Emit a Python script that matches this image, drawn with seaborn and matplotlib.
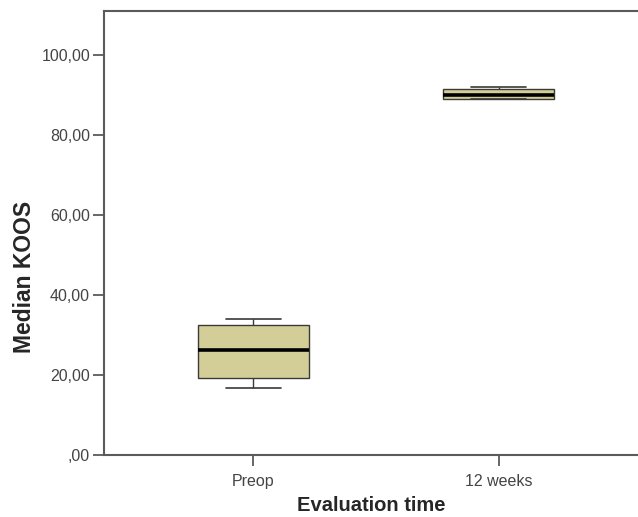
import matplotlib
matplotlib.use("Agg")
import matplotlib.pyplot as plt
import seaborn as sns
import pandas as pd
from matplotlib.ticker import FixedLocator, FixedFormatter

# ---- data ----
timepoints = ["Preop", "12 weeks"]
preop_koos = [16.8, 19.2, 26.25, 32.5, 33.9]
week12_koos = [88.9, 88.9, 90.0, 91.4, 92.1]
y_ticks = [0, 20, 40, 60, 80, 100]
y_tick_labels = [",00", "20,00", "40,00", "60,00", "80,00", "100,00"]

df = pd.DataFrame({
    "time": [timepoints[0]] * len(preop_koos) + [timepoints[1]] * len(week12_koos),
    "koos": preop_koos + week12_koos,
})

sns.set_style("ticks")
plt.rcParams["font.family"] = ["Liberation Sans", "DejaVu Sans"]

fig = plt.figure(figsize=(6.38, 5.17), dpi=100)
ax = fig.add_axes([104 / 638, 62 / 517, 1 - 104 / 638, 444 / 517])

edge = "#3a3a3a"
sns.boxplot(
    data=df, x="time", y="koos", order=timepoints, ax=ax,
    color="#D3CE97", saturation=1, width=0.453, linewidth=1.0,
    linecolor=edge, whis=1.5, showfliers=False,
    medianprops=dict(color="black", linewidth=2.6),
    boxprops=dict(edgecolor=edge, linewidth=1.0),
    whiskerprops=dict(color=edge, linewidth=1.0),
    capprops=dict(color=edge, linewidth=1.2),
)

ax.set_xlim(-0.61, 1.569)
ax.set_ylim(0, 111)
ax.yaxis.set_major_locator(FixedLocator(y_ticks))
ax.yaxis.set_major_formatter(FixedFormatter(y_tick_labels))

ax.set_xlabel("Evaluation time", fontsize=14.5, fontweight="bold", labelpad=5)
ax.set_ylabel("Median KOOS", fontsize=16.5, fontweight="bold")
ax.yaxis.set_label_coords(-0.128, 0.4)

spine_c = "#5a5a5a"
for s in ["left", "bottom", "top"]:
    ax.spines[s].set_visible(True)
    ax.spines[s].set_color(spine_c)
    ax.spines[s].set_linewidth(1.5)
ax.spines["right"].set_visible(False)

ax.tick_params(axis="both", direction="out", length=8, width=1.3, color=spine_c,
               labelsize=11.5, labelcolor="#444444", pad=2)
ax.tick_params(axis="x", pad=6)

fig.savefig("out.png", dpi=100)
